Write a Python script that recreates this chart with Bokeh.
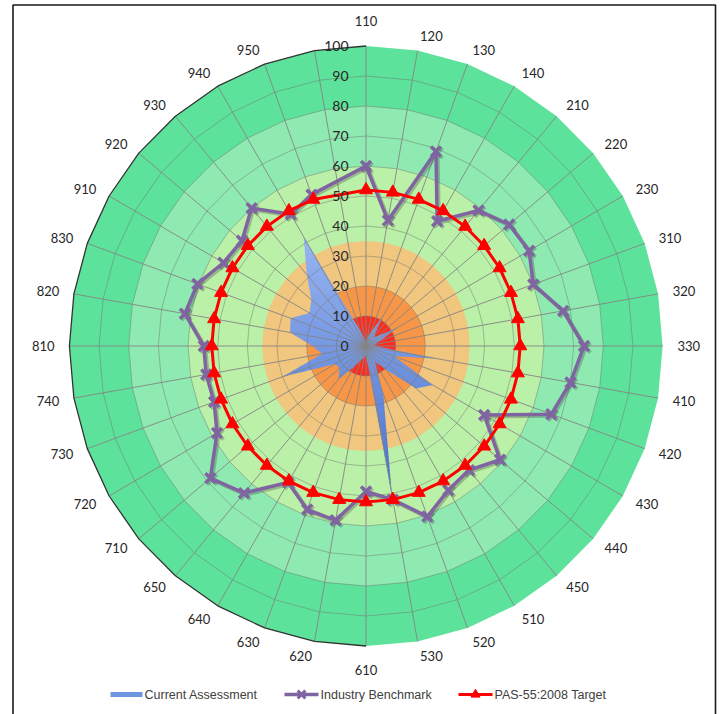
import numpy as np
from bokeh.plotting import figure
from bokeh.models import Range1d
from bokeh.embed import file_html
from bokeh.resources import INLINE
from bokeh.core.properties import value

# ---------------- data ----------------
categories = ["110", "120", "130", "140", "210", "220", "230", "310", "320", "330",
              "410", "420", "430", "440", "450", "510", "520", "530", "610", "620",
              "630", "640", "650", "710", "720", "730", "740", "810", "820", "830",
              "910", "920", "930", "940", "950", ""]

current_assessment = [1, 3, 5, 12, 4, 5, 12.5, 5, 3, 3,
                      24, 10, 26, 22, 10, 6, 17, 50, 3, 4,
                      5, 8, 14.5, 11.5, 12, 30, 15, 18, 26, 27,
                      22, 24, 31, 42, 5, None]

industry_benchmark = [60, 42.5, 69, 48, 59, 63, 63.5, 60, 67.5, 73.5,
                      70, 66.5, 46, 59, 54, 55.5, 60.5, 52, 48.5, 59,
                      58, 52.5, 64, 68.5, 58, 54.5, 54.7, 54.7, 62, 60.5,
                      55.5, 54.6, 60, 50.7, 53.7, None]

pas55_target = [52, 52, 52, 52, 52, 52, 52, 52, 52, 52,
                52, 52, 52, 52, 52, 52, 52, 52, 52, 52,
                52, 52, 52, 52, 52, 52, 52, 52, 52, 52,
                52, 52, 52, 52, 52, None]

radial_ticks = [0, 10, 20, 30, 40, 50, 60, 70, 80, 90, 100]
band_limits = [100, 80, 60, 35, 20, 10]
band_colors = ["#5DE29B", "#8EEAB1", "#BAF0A7", "#F1C67E", "#F79646", "#FF2B1C"]
series_names = ["Current Assessment", "Industry Benchmark", "PAS-55:2008 Target"]
series_colors = ["#6F95E0", "#8064A2", "#FF0000"]

# ---------------- geometry ----------------
W, H = 722, 714
CX, CY = 365.5, 345.5          # pixel position of the centre
PX_X, PX_Y = 2.966, 3.0        # pixels per value unit
N = len(categories)
theta = np.deg2rad(np.arange(N) * 360.0 / N)
S, C = np.sin(theta), np.cos(theta)


def px_to_x(px):
    return (px - CX) / PX_X


def py_to_y(py):
    return (CY - py) / PX_Y


p = figure(width=W, height=H, output_backend="svg", toolbar_location=None,
           x_axis_type=None, y_axis_type=None, min_border=0,
           x_range=Range1d(px_to_x(0), px_to_x(W)),
           y_range=Range1d(py_to_y(H), py_to_y(0)))
p.grid.visible = False
p.outline_line_color = None
p.background_fill_color = "white"
p.border_fill_color = "white"

# chart-area frame
fl, fr, ft, fb = px_to_x(12.5), px_to_x(715), py_to_y(4.5), py_to_y(730)
p.line([fl, fl, fr, fr], [fb, ft, ft, fb], line_color="#1a1a1a", line_width=1.6)

# background bands (concentric polygons)
for r, col in zip(band_limits, band_colors):
    p.patch(list(r * S), list(r * C), fill_color=col, line_color=None)

# ---------------- current assessment (gradient-filled area) ----------------
idx_c = [i for i, v in enumerate(current_assessment) if v is not None]
vc = np.array([current_assessment[i] for i in idx_c], float)
poly = list(zip(vc * S[idx_c], vc * C[idx_c]))


def clip(points, yv, keep_above):
    out = []
    n = len(points)
    for k in range(n):
        a = points[k]
        b = points[(k + 1) % n]
        ina = a[1] >= yv if keep_above else a[1] <= yv
        inb = b[1] >= yv if keep_above else b[1] <= yv
        if ina:
            out.append(a)
        if ina != inb:
            t = (yv - a[1]) / (b[1] - a[1])
            out.append((a[0] + t * (b[0] - a[0]), yv))
    return out


ymax = max(pt[1] for pt in poly)
ymin = min(pt[1] for pt in poly)
top_rgb = np.array([160, 188, 246])
bot_rgb = np.array([70, 112, 204])
step = 1.5
xs_l, ys_l, cols = [], [], []
y_hi = ymax + 0.01
while y_hi > ymin:
    y_lo = y_hi - step
    part = clip(poly, y_lo, True)
    if part:
        part = clip(part, y_hi + 0.4, False)
    if len(part) >= 3:
        t = ((y_hi + y_lo) / 2 - 45) / (-52 - 45)
        t = min(max(t, 0), 1)
        rgb = top_rgb + t * (bot_rgb - top_rgb)
        xs_l.append([q[0] for q in part])
        ys_l.append([q[1] for q in part])
        cols.append("#%02x%02x%02x" % tuple(int(round(c)) for c in rgb))
    y_hi = y_lo
p.patches(xs_l, ys_l, fill_color=cols, line_color=None)

# ---------------- grid ----------------
for r in radial_ticks[1:-1]:
    p.line(list(r * S) + [0], list(r * C) + [r], line_color="#6f6f6f",
           line_alpha=0.45, line_width=1)
spoke_x, spoke_y = [], []
for s, c in zip(S, C):
    spoke_x.append([0, 100 * s])
    spoke_y.append([0, 100 * c])
p.multi_line(spoke_x, spoke_y, line_color="#858585", line_width=1, line_alpha=0.9)

# outline on the left half of the outer edge
left = [i for i in range(N) if theta[i] >= np.pi - 1e-9]
p.line(list(100 * S[left]) + [0], list(100 * C[left]) + [100],
       line_color="#333333", line_width=1.3)

# ---------------- line series ----------------
sdx, sdy = 1.6 / PX_X, -1.6 / PX_Y


def closed(vals):
    ids = [i for i, v in enumerate(vals) if v is not None]
    v = np.array([vals[i] for i in ids], float)
    x = list(v * S[ids]); y = list(v * C[ids])
    return x + [x[0]], y + [y[0]], x, y


bx, by, bmx, bmy = closed(industry_benchmark)
p.line([a + sdx for a in bx], [b + sdy for b in by], line_color="#404040",
       line_alpha=0.3, line_width=4)
p.scatter([a + sdx for a in bmx], [b + sdy for b in bmy], marker="x", size=14,
          line_color="#404040", line_alpha=0.3, line_width=3.5)
p.line(bx, by, line_color=series_colors[1], line_width=3.5)
p.scatter(bmx, bmy, marker="x", size=14, line_color=series_colors[1], line_width=3.5)

tx, ty, tmx, tmy = closed(pas55_target)
p.line(tx, ty, line_color=series_colors[2], line_width=3)
p.scatter(tmx, tmy, marker="triangle", size=13, fill_color=series_colors[2],
          line_color=series_colors[2], line_width=1)

# ---------------- labels ----------------
R_LAB = 105
R_LAB_V = 106.8
groups = {}
for i, lab in enumerate(categories):
    if not lab:
        continue
    deg = i * 360.0 / N
    r = R_LAB
    if abs(deg) < 1e-6:
        al, bl, r = "center", "bottom", R_LAB_V
    elif abs(deg - 180) < 1e-6:
        al, bl, r = "center", "top", R_LAB_V - 0.6
    elif deg < 180:
        al, bl = "left", "middle"
    else:
        al, bl = "right", "middle"
    g = groups.setdefault((al, bl), ([], [], []))
    g[0].append(r * S[i]); g[1].append(r * C[i]); g[2].append(lab)
for (al, bl), (gx, gy, gt) in groups.items():
    p.text(gx, gy, text=gt, text_align=al, text_baseline=bl,
           text_font=value("Lato"), text_font_size="13px", text_color="#262626")

p.text([px_to_x(348)] * len(radial_ticks), radial_ticks,
       text=[str(t) for t in radial_ticks], text_align="right",
       text_baseline="middle", text_font=value("Lato"), text_font_size="14px",
       text_color="#262626")

# ---------------- legend ----------------
ly = py_to_y(694)
p.rect([px_to_x(126)], [ly], width=[px_to_x(142) - px_to_x(110)], height=5,
       height_units="screen", fill_color=series_colors[0], line_color=None)
p.line([px_to_x(284), px_to_x(318)], [ly, ly], line_color=series_colors[1], line_width=3.5)
p.scatter([px_to_x(301)], [ly], marker="x", size=11, line_color=series_colors[1], line_width=3)
p.line([px_to_x(458), px_to_x(492)], [ly, ly], line_color=series_colors[2], line_width=3)
p.scatter([px_to_x(475)], [ly], marker="triangle", size=9, fill_color=series_colors[2],
          line_color=series_colors[2])
p.text([px_to_x(144), px_to_x(320), px_to_x(494)], [ly] * 3, text=series_names,
       text_align="left", text_baseline="middle", text_font=value("Liberation Sans"),
       text_font_size="12.5px", text_color="#404040")

open("out.html", "w").write(file_html(p, INLINE))
